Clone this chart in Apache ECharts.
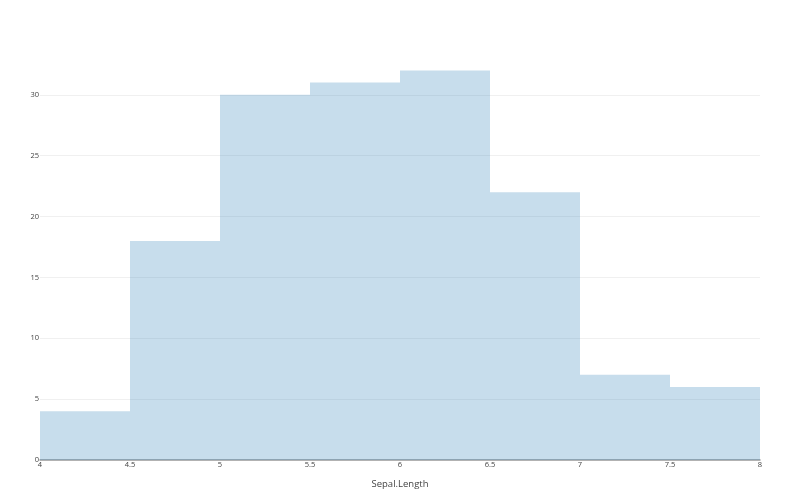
<!DOCTYPE html>
<html><head><meta charset="utf-8">
<script src="https://cdn.jsdelivr.net/npm/echarts@6/dist/echarts.min.js"></script>
<style>html,body{margin:0;padding:0;background:#fff}#c{width:800px;height:500px}</style>
</head><body><div id="c"></div>
<script>
var binStarts = [4, 4.5, 5, 5.5, 6, 6.5, 7, 7.5];
var binEnds = [4.5, 5, 5.5, 6, 6.5, 7, 7.5, 8];
var counts = [4, 18, 30, 31, 32, 22, 7, 6];
var xTicks = [4, 4.5, 5, 5.5, 6, 6.5, 7, 7.5, 8];

var data = binStarts.map(function (s, i) { return [s, binEnds[i], counts[i]]; });
var chart = echarts.init(document.getElementById('c'));
chart.setOption({
  animation: false,
  grid: { left: 40, right: 40, top: 50, bottom: 40 },
  xAxis: {
    type: 'value', min: 4, max: 8, interval: 0.5,
    name: 'Sepal.Length', nameLocation: 'middle', nameGap: 19,
    nameTextStyle: { color: '#444', fontSize: 9.5, fontFamily: 'Open Sans' },
    axisLine: { show: true, lineStyle: { color: '#999', width: 1.5 } },
    axisTick: { show: false },
    axisLabel: { color: '#444', fontSize: 7.5, margin: 1, fontFamily: 'Open Sans',
      formatter: function (v) { return String(v); } },
    splitLine: { show: false }
  },
  yAxis: {
    type: 'value', min: 0, max: 33.68, interval: 5,
    axisLine: { show: false }, axisTick: { show: false },
    axisLabel: { color: '#444', fontSize: 7.5, margin: 1, fontFamily: 'Open Sans', showMaxLabel: false },
    splitLine: { show: true, showMinLine: false, showMaxLine: false, lineStyle: { color: '#f0f0f0', width: 1 } }
  },
  series: [{
    type: 'custom',
    data: data,
    encode: { x: [0, 1], y: 2 },
    z: 5,
    renderItem: function (params, api) {
      var p0 = api.coord([api.value(0), api.value(2)]);
      var p1 = api.coord([api.value(1), 0]);
      return {
        type: 'rect',
        shape: { x: p0[0], y: p0[1], width: p1[0] - p0[0], height: p1[1] - p0[1] },
        style: { fill: 'rgba(31,119,180,0.25)' }
      };
    }
  }]
});
</script></body></html>
